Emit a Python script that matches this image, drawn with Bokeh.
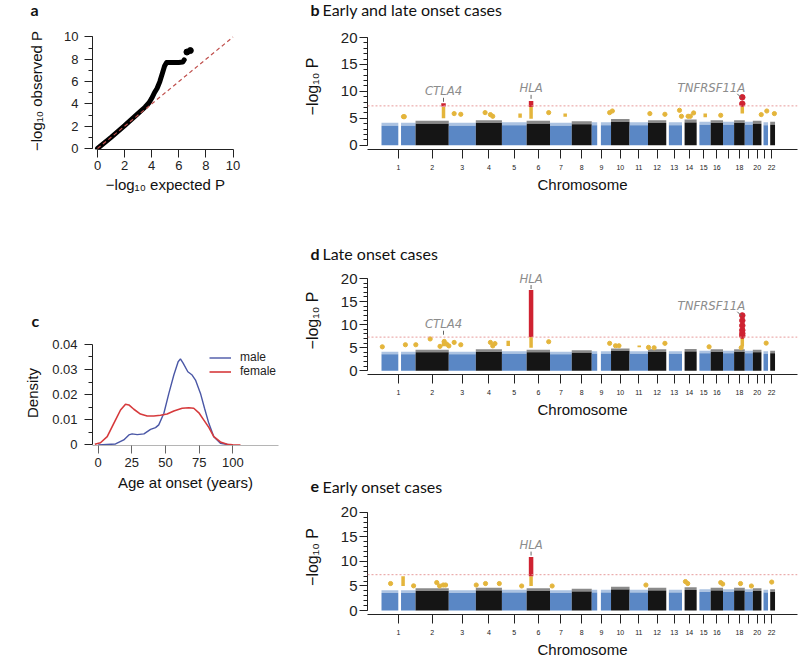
import numpy as np
from bokeh.plotting import figure
from bokeh.layouts import row, column
from bokeh.models import Range1d, FixedTicker, SingleIntervalTicker, Span, Label
from bokeh.embed import file_html
from bokeh.resources import INLINE

# ---------------- Panel a: QQ plot ----------------
qq_expected = [0, 1.0, 2.0, 3.0, 3.5, 3.8, 4.0, 4.2, 4.4, 4.6, 4.8, 4.95, 5.1, 5.6, 6.0, 6.3, 6.4]
qq_observed = [0, 1.0, 2.05, 3.15, 3.7, 4.1, 4.5, 5.0, 5.4, 6.0, 6.8, 7.4, 7.72, 7.72, 7.72, 7.75, 7.95]
qq_top_expected = [6.6, 6.85]
qq_top_observed = [8.65, 8.78]
qq_null = [0, 10]

# ---------------- Panel c: age at onset density ----------------
male_age = [0, 12.9, 19, 22.8, 25.2, 29, 34, 38.9, 42.6, 45, 48.8, 52.5, 56.2, 59.4, 61.1,
            63.1, 66.6, 69.8, 72.3, 76, 79, 82.2, 85.9, 90.8, 98.3]
male_den = [0, 0.0004, 0.002, 0.004, 0.0044, 0.0041, 0.0044, 0.0062, 0.0069, 0.008, 0.0126,
            0.0205, 0.0278, 0.0331, 0.0342, 0.0325, 0.0291, 0.0278, 0.0258, 0.0205, 0.0146,
            0.0086, 0.0033, 0.0007, 0]
female_age = [-2.5, 1.7, 6.7, 11.6, 16.6, 20.3, 22.8, 26.5, 31.4, 36.4, 41.3, 46.3, 51.2, 56.2,
              62.4, 67.3, 71, 74.8, 78.5, 82.2, 85.9, 90.8, 95.8, 100, 105.7]
female_den = [0.0003, 0.0009, 0.0033, 0.0086, 0.0139, 0.0162, 0.0159, 0.0142, 0.0123, 0.0115,
              0.0115, 0.0118, 0.0123, 0.0135, 0.0146, 0.0148, 0.0146, 0.0128, 0.0099, 0.007,
              0.0033, 0.0012, 0.0003, 0.0001, 0]
age_ticks = [0, 25, 50, 75, 100]
density_ticks = [0, 0.01, 0.02, 0.03, 0.04]
density_labels = ["0", "0.01", "0.02", "0.03", "0.04"]

# ---------------- Manhattan plots ----------------
chrom_len = [249.25, 243.2, 198.0, 191.15, 180.9, 171.1, 159.1, 146.4, 141.2, 135.5, 135.0,
             133.9, 115.2, 107.3, 102.5, 90.4, 81.2, 78.1, 59.1, 63.0, 48.1, 51.3]
chrom_tick_labels = ["1", "2", "3", "4", "5", "6", "7", "8", "9", "10", "11", "12", "13", "14",
                     "15", "16", "", "18", "", "20", "", "22"]
chrom_data_start = [0, 0, 0, 0, 0, 0, 0, 0, 0, 0, 0, 0, 19, 19, 20, 0, 0, 0, 0, 0, 15, 16]
gap_chr = [1, 9]
gap_from = [123, 40]
gap_to = [143, 67]
block_top = [3.6, 4.0, 3.6, 4.1, 3.7, 4.0, 3.6, 3.9, 3.7, 4.3, 3.7, 4.1, 3.7, 4.2, 3.8, 4.1,
             3.8, 4.1, 3.8, 4.0, 3.7, 3.8]
genome_wide = 7.3

# b: early and late onset
b_pt_chr = [1, 1, 3, 3, 4, 4, 4, 6, 9, 10, 12, 12, 13, 13, 14, 14, 14, 16, 20, 21, 22]
b_pt_pos = [161, 167, 39.5, 88, 68, 107, 124, 161.5, 131, 9.7, 13.7, 124, 97, 111, 44.7, 61, 85, 73.6, 61.5, 39, 46.5]
b_pt_val = [5.3, 5.3, 5.87, 5.74, 6.05, 5.68, 5.37, 6.05, 6.05, 6.35, 5.87, 5.74, 6.48, 5.37, 5.37, 5.37, 5.99, 5.55, 5.68, 6.35, 5.87]
b_ycol_chr = [2, 5, 6, 7, 15, 18]
b_ycol_pos = [204.7, 133, 32.5, 111, 62.6, 60]
b_ycol_lo = [5.0, 5.1, 4.9, 5.3, 5.2, 5.9]
b_ycol_hi = [7.1, 5.9, 7.1, 5.9, 5.9, 7.2]
b_rcol_chr = [2, 6]
b_rcol_pos = [204.7, 32.5]
b_rcol_lo = [7.2, 7.1]
b_rcol_hi = [7.8, 8.2]
b_rpt_chr = [18, 18]
b_rpt_pos = [60, 60]
b_rpt_val = [7.7, 8.9]
b_gene = ["CTLA4", "HLA", "TNFRSF11A"]
b_gene_chr = [2, 6, 18]
b_gene_pos = [204.7, 32.5, 60]
b_gene_y = [10.1, 10.65, 10.65]

# d: late onset
d_pt_chr = [1, 1, 2, 2, 2, 2, 2, 3, 3, 3, 4, 4, 4, 6, 9, 10, 10, 12, 12, 12, 15, 18, 21]
d_pt_pos = [6, 175, 2, 107, 179, 210, 227, 0.7, 39.5, 88, 107, 124, 140, 161.5, 131, 33, 58, 4, 45, 124, 91, 52, 34.5]
d_pt_val = [5.2, 5.65, 5.65, 6.9, 5.3, 6.37, 5.8, 5.4, 6.15, 5.65, 6.15, 5.4, 5.9, 6.3, 5.95, 5.43, 5.43, 5.07, 5.0, 5.95, 5.2, 5.0, 6.0]
d_ycol_chr = [2, 5, 6, 11, 18]
d_ycol_pos = [204.7, 46, 32.5, 71, 60]
d_ycol_lo = [5.3, 5.4, 5.0, 5.1, 5.2]
d_ycol_hi = [6.4, 6.5, 7.3, 5.5, 7.3]
d_rcol_chr = [6]
d_rcol_pos = [32.5]
d_rcol_lo = [7.3]
d_rcol_hi = [17.5]
d_rpt_chr = [18, 18, 18, 18, 18, 18]
d_rpt_pos = [60, 60, 60, 60, 60, 60]
d_rpt_val = [7.6, 8.1, 8.8, 9.8, 10.9, 12.0]
d_gene = ["CTLA4", "HLA", "TNFRSF11A"]
d_gene_chr = [2, 6, 18]
d_gene_pos = [204.7, 32.5, 60]
d_gene_y = [10.2, 20.1, 14.1]

# e: early onset
e_pt_chr = [1, 1, 2, 2, 2, 2, 4, 4, 4, 5, 7, 11, 14, 14, 16, 16, 18, 19, 22]
e_pt_pos = [66.5, 235, 155, 176, 203, 220, 3, 71, 172, 144.5, 15.6, 120, 25, 42, 73.6, 88, 47, 48.5, 27]
e_pt_val = [5.5, 5.03, 5.7, 5.0, 5.2, 5.2, 5.2, 5.5, 5.5, 5.0, 5.0, 5.2, 5.9, 5.5, 5.7, 5.4, 5.5, 5.0, 5.8]
e_ycol_chr = [1, 6]
e_ycol_pos = [158, 32.5]
e_ycol_lo = [5.0, 5.0]
e_ycol_hi = [7.0, 7.0]
e_rcol_chr = [6]
e_rcol_pos = [32.5]
e_rcol_lo = [7.0]
e_rcol_hi = [10.9]
e_rpt_chr = []
e_rpt_pos = []
e_rpt_val = []
e_gene = ["HLA"]
e_gene_chr = [6]
e_gene_pos = [32.5]
e_gene_y = [13.4]

# ---------------- styles ----------------
FONT = "Liberation Sans"
GENE_FONT = "Liberation Sans Narrow, DejaVu Sans Condensed, Liberation Sans"
TFONT = "Lato"
BLUE = "#5a87c5"
BLACK = "#151515"
YELLOW = "#e4b53b"
RED = "#cf2231"
GENE_GRAY = "#8c8c8c"
AXC = "#222222"
RIGHT_ALIGNED = {"TNFRSF11A"}

chrom_start = np.concatenate([[0.0], np.cumsum(chrom_len)[:-1]])
chrom_center = [round(float(s + l / 2.0), 3) for s, l in zip(chrom_start, chrom_len)]


def gpos(chrs, poss):
    return [float(chrom_start[c - 1] + p) for c, p in zip(chrs, poss)]


def base_fig(width, height, xr, yr, left, right, top, bottom, axes=True):
    kw = {} if axes else dict(x_axis_location=None, y_axis_location=None)
    p = figure(width=width, height=height, x_range=xr, y_range=yr, title=None,
               output_backend="svg", toolbar_location=None, frame_align=False,
               min_border_left=left, min_border_right=right,
               min_border_top=top, min_border_bottom=bottom, **kw)
    p.xgrid.visible = False
    p.ygrid.visible = False
    p.outline_line_color = None
    p.background_fill_color = "white"
    p.border_fill_color = "white"
    return p


def style_axis(ax, tick_font, label_font, tick_out=8, minor_out=4, standoff=5, label_standoff=5):
    ax.axis_line_color = AXC
    ax.axis_line_width = 1
    ax.major_tick_line_color = AXC
    ax.major_tick_out = tick_out
    ax.major_tick_in = 0
    ax.minor_tick_line_color = AXC
    ax.minor_tick_out = minor_out
    ax.minor_tick_in = 0
    ax.major_label_text_font = FONT
    ax.major_label_text_font_size = tick_font
    ax.major_label_text_color = AXC
    ax.major_label_standoff = standoff
    ax.axis_label_text_font = FONT
    ax.axis_label_text_font_size = label_font
    ax.axis_label_text_font_style = "normal"
    ax.axis_label_text_color = "#111111"
    ax.axis_label_standoff = label_standoff


def title_strip(width, height, letter, text, x, baseline):
    # text is vertically centred about 5px above the intended baseline
    t = base_fig(width, height, Range1d(0, width), Range1d(0, height), 0, 0, 0, 0, axes=False)
    yc = height - baseline + 5
    t.add_layout(Label(x=x, y=yc, text=letter, text_font=TFONT,
                       text_font_style="bold", text_font_size="16px", text_color="#111111",
                       text_baseline="middle"))
    if text:
        t.add_layout(Label(x=x + 12, y=yc, text=text, text_font=TFONT,
                           text_font_size="16px", text_color="#111111",
                           text_baseline="middle"))
    return t


LEFT_W, RIGHT_W = 280, 518

# ---------------- Panel a ----------------
ta = title_strip(LEFT_W, 20, "a", "", 30, 13.5)
pa = base_fig(LEFT_W, 245, Range1d(-0.37, 10.405), Range1d(-0.09, 10.40), 92, 42, 12, 116)
pa.line(qq_expected, qq_observed, line_width=5, line_color="black", line_cap="round", line_join="round")
pa.scatter(qq_top_expected, qq_top_observed, size=6, color="black")
pa.line(qq_null, qq_null, line_color="#c0504d", line_dash="4 3", line_width=1.2)
pa.xaxis.ticker = SingleIntervalTicker(interval=2, num_minor_ticks=0)
pa.yaxis.ticker = SingleIntervalTicker(interval=2, num_minor_ticks=2)
pa.xaxis.bounds = (0, 10)
pa.yaxis.bounds = (0, 10)
style_axis(pa.xaxis[0], "13px", "15px", standoff=3, label_standoff=3)
style_axis(pa.yaxis[0], "13px", "15px", standoff=6, label_standoff=16)
pa.xaxis.minor_tick_line_color = None
pa.xaxis.axis_label = "\u2212log\u2081\u2080 expected P"
pa.yaxis.axis_label = "\u2212log\u2081\u2080 observed P"

# ---------------- Panel c ----------------
tc = title_strip(LEFT_W, 65, "c", "", 31, 60)
pc = base_fig(LEFT_W, 330, Range1d(-4.23, 133.96), Range1d(-0.0002, 0.04152), 92, 2, 10, 215)
pc.line(male_age, male_den, line_color="#4a57a6", line_width=1.4, legend_label="male")
pc.line(female_age, female_den, line_color="#d63a3c", line_width=1.6, legend_label="female")
pc.xaxis.ticker = FixedTicker(ticks=age_ticks, minor_ticks=[])
pc.yaxis.ticker = FixedTicker(ticks=density_ticks, minor_ticks=[0.005, 0.015, 0.025, 0.035])
pc.yaxis.major_label_overrides = {t: s for t, s in zip(density_ticks, density_labels)}
pc.yaxis.bounds = (0, 0.04)
style_axis(pc.xaxis[0], "13px", "15px", standoff=4, label_standoff=4)
style_axis(pc.yaxis[0], "13px", "15px", standoff=7, label_standoff=8)
pc.xaxis.axis_line_color = "#b5b5b5"
pc.xaxis.major_tick_line_color = "#666666"
pc.xaxis.axis_label = "Age at onset (years)"
pc.yaxis.axis_label = "Density"
lg = pc.legend[0]
lg.location = (117, 67)
lg.border_line_color = None
lg.background_fill_alpha = 0
lg.padding = 0
lg.margin = 0
lg.spacing = 0
lg.glyph_width = 22
lg.glyph_height = 13
lg.label_height = 13
lg.label_standoff = 9
lg.label_text_font = FONT
lg.label_text_font_size = "12px"
lg.label_text_color = AXC

# ---------------- Manhattan helper ----------------
X0, X1 = -102.5, 3045.4
Y0, Y1 = -0.8, 22.6


def manhattan(height, top, bottom,
              pt_chr, pt_pos, pt_val, ycol_chr, ycol_pos, ycol_lo, ycol_hi,
              rcol_chr, rcol_pos, rcol_lo, rcol_hi, rpt_chr, rpt_pos, rpt_val,
              genes, gene_chr, gene_pos, gene_y):
    width, left, right = RIGHT_W, 87, 1
    p = base_fig(width, height, Range1d(X0, X1), Range1d(Y0, Y1), left, right, top, bottom)
    fh = height - top - bottom
    ppu = fh / (Y1 - Y0)
    mpp = (X1 - X0) / (width - left - right)

    # chromosome blocks
    ql, qr, qt, qc = [], [], [], []
    for i in range(22):
        s = chrom_start[i] + chrom_data_start[i]
        e = chrom_start[i] + chrom_len[i]
        pieces = [(s, e)]
        for gc, gf, gt in zip(gap_chr, gap_from, gap_to):
            if gc == i + 1:
                pieces = [(s, chrom_start[i] + gf), (chrom_start[i] + gt, e)]
        for a, b in pieces:
            ql.append(float(a)); qr.append(float(b)); qt.append(block_top[i])
            qc.append(BLUE if i % 2 == 0 else BLACK)
    qb = [0.0] * len(ql)
    p.quad(left=ql, right=qr, bottom=qb, top=qt, fill_color=qc, line_color=None)
    p.quad(left=ql, right=qr, bottom=qt, top=[t + 0.55 for t in qt], fill_color=qc,
           fill_alpha=0.5, line_color=None)

    # suggestive / significant hits
    if pt_chr:
        p.scatter(gpos(pt_chr, pt_pos), pt_val, size=4.2, color=YELLOW)
    if ycol_chr:
        xs = gpos(ycol_chr, ycol_pos)
        p.segment(xs, ycol_lo, xs, ycol_hi, line_color=YELLOW, line_width=3.5)
    if rcol_chr:
        xs = gpos(rcol_chr, rcol_pos)
        p.segment(xs, rcol_lo, xs, rcol_hi, line_color=RED, line_width=4.5)
    if rpt_chr:
        p.scatter(gpos(rpt_chr, rpt_pos), rpt_val, size=5.5, color=RED)

    p.add_layout(Span(location=genome_wide, dimension="width", line_color="#e79b9b",
                      line_dash="2 2", line_width=1))

    # gene annotations
    for g, c, pos, gy in zip(genes, gene_chr, gene_pos, gene_y):
        gx = float(chrom_start[c - 1] + pos)
        if g in RIGHT_ALIGNED:
            p.add_layout(Label(x=gx, y=gy, x_offset=3, text=g, text_align="right",
                               text_baseline="middle", text_font=GENE_FONT,
                               text_font_style="italic", text_font_size="13px",
                               text_color=GENE_GRAY))
            p.segment([gx - 5 * mpp], [gy - 6 / ppu], [gx - 1 * mpp], [gy - 10 / ppu],
                      line_color="#666666", line_width=1)
        else:
            p.add_layout(Label(x=gx, y=gy, text=g, text_align="center",
                               text_baseline="middle", text_font=GENE_FONT,
                               text_font_style="italic", text_font_size="13px",
                               text_color=GENE_GRAY))
            p.segment([gx], [gy - 7 / ppu], [gx], [gy - 11 / ppu],
                      line_color="#666666", line_width=1)

    # axes
    p.xaxis.ticker = FixedTicker(ticks=chrom_center, minor_ticks=[])
    p.xaxis.major_label_overrides = {t: s for t, s in zip(chrom_center, chrom_tick_labels)}
    p.yaxis.ticker = SingleIntervalTicker(interval=5, num_minor_ticks=5)
    p.yaxis.bounds = (0, 20)
    style_axis(p.xaxis[0], "7px", "15px", tick_out=9, standoff=6, label_standoff=3)
    style_axis(p.yaxis[0], "15px", "16px", tick_out=8, minor_out=4, standoff=2, label_standoff=17)
    p.xaxis.axis_label = "Chromosome"
    p.yaxis.axis_label = "\u2212log\u2081\u2080 P"
    return p


tb = title_strip(RIGHT_W, 20, "b", "Early and late onset cases", 30, 13.5)
pb = manhattan(200, 3, 71,
               b_pt_chr, b_pt_pos, b_pt_val, b_ycol_chr, b_ycol_pos, b_ycol_lo, b_ycol_hi,
               b_rcol_chr, b_rcol_pos, b_rcol_lo, b_rcol_hi, b_rpt_chr, b_rpt_pos, b_rpt_val,
               b_gene, b_gene_chr, b_gene_pos, b_gene_y)
td = title_strip(RIGHT_W, 44, "d", "Late onset cases", 30, 38)
pd_ = manhattan(206, 2, 96,
                d_pt_chr, d_pt_pos, d_pt_val, d_ycol_chr, d_ycol_pos, d_ycol_lo, d_ycol_hi,
                d_rcol_chr, d_rcol_pos, d_rcol_lo, d_rcol_hi, d_rpt_chr, d_rpt_pos, d_rpt_val,
                d_gene, d_gene_chr, d_gene_pos, d_gene_y)
te = title_strip(RIGHT_W, 27, "e", "Early onset cases", 30, 21)
pe = manhattan(163, 2, 44,
               e_pt_chr, e_pt_pos, e_pt_val, e_ycol_chr, e_ycol_pos, e_ycol_lo, e_ycol_hi,
               e_rcol_chr, e_rcol_pos, e_rcol_lo, e_rcol_hi, e_rpt_chr, e_rpt_pos, e_rpt_val,
               e_gene, e_gene_chr, e_gene_pos, e_gene_y)

layout = row(column(ta, pa, tc, pc, spacing=0),
             column(tb, pb, td, pd_, te, pe, spacing=0), spacing=0)

open("out.html", "w").write(file_html(layout, INLINE))
